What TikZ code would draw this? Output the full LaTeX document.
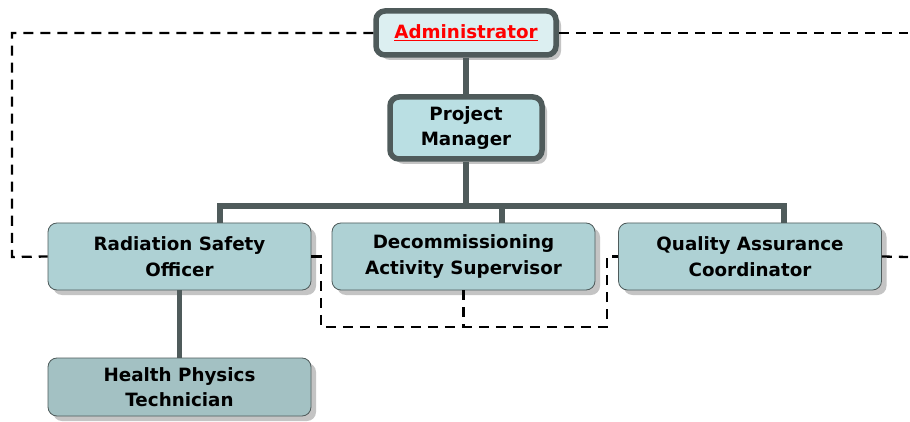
\documentclass[tikz,border=0pt]{standalone}
\usepackage{fontspec}
\setmainfont{DejaVu Sans}
\usetikzlibrary{shadows}
\definecolor{edgec}{HTML}{4F5B5B}
\definecolor{adminfill}{HTML}{DCEFF1}
\definecolor{pmfill}{HTML}{BADFE3}
\definecolor{rowfill}{HTML}{AED1D4}
\definecolor{hptfill}{HTML}{A3C1C3}
\definecolor{shadowc}{HTML}{C4C4C4}
\begin{document}
\begin{tikzpicture}[x=1pt,y=-1pt,
  boxbase/.style={rounded corners=9pt, align=center, inner sep=0pt,
    font=\bfseries\fontsize{18.3}{25.5}\selectfont,
    drop shadow={shadow xshift=5pt, shadow yshift=-5pt, fill=shadowc, opacity=1}},
  topbox/.style={boxbase, draw=edgec, line width=5.5pt},
  rowbox/.style={boxbase, draw=edgec, line width=0.8pt, fill=rowfill,
    minimum width=263pt, minimum height=67pt},
  tree/.style={draw=edgec, line width=5.5pt},
  dotted link/.style={draw=black, line width=2.3pt, dash pattern=on 10pt off 7pt}]
\useasboundingbox (0,0) rectangle (910,422);
\fill[white] (0,0) rectangle (910,422);
% nodes
\node[topbox, fill=adminfill, minimum width=180pt, minimum height=44pt] (admin) at (466,33)
  {\textcolor{red}{\underline{Administrator}}};
\node[topbox, fill=pmfill, minimum width=152pt, minimum height=62pt] (pm) at (466,128)
  {Project\\Manager};
\node[rowbox] (rso) at (179.5,256.5) {Radiation Safety\\Officer};
\node[rowbox] (das) at (463.5,256.5) {Decommissioning\\Activity Supervisor};
\node[rowbox] (qac) at (750,256.5) {Quality Assurance\\Coordinator};
\node[rowbox, fill=hptfill, minimum height=58pt] (hpt) at (179.5,387) {Health Physics\\Technician};
\coordinate (tl) at (12,33);
\coordinate (bl) at (12,257);
\coordinate (tr) at (908,33);
\coordinate (mr) at (908,257);
\coordinate (dl) at (321,327);
\coordinate (dr) at (607,327);
\coordinate (bus) at (466,206);
% dashed links
\draw[dotted link] (admin.west) -- (tl) -- (bl) -- (rso.west);
\draw[dotted link] (admin.east) -- (tr);
\draw[dotted link] (qac.east) -- (mr);
\draw[dotted link] (rso.east) -| (dl) -- (dr) |- (qac.west);
\draw[dotted link] (das.south) -- (das.south |- dl);
% tree
\draw[tree] (admin.south) -- (pm.north);
\draw[tree] (pm.south) -- (bus);
\draw[tree] (rso.north -| 220,0) |- (bus) -| (qac.north -| 784,0);
\draw[tree] (das.north -| 502,0) -- (502,206);
\draw[tree] (rso.south) -- (hpt.north);
\end{tikzpicture}
\end{document}
